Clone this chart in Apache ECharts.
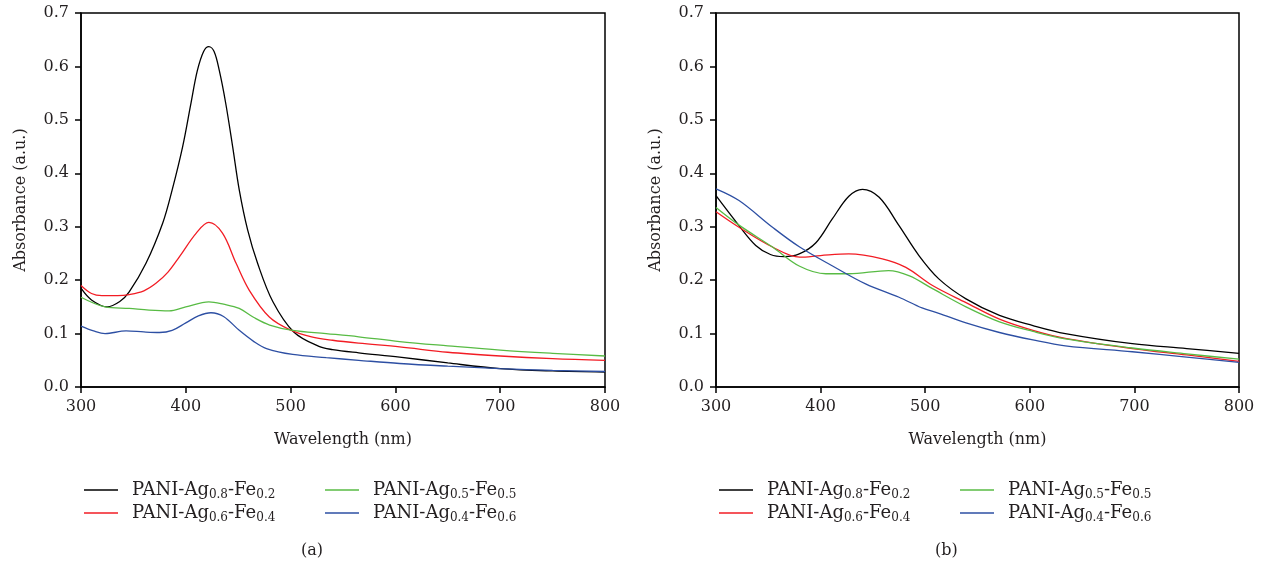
<!DOCTYPE html>
<html><head><meta charset="utf-8">
<script src="https://cdn.jsdelivr.net/npm/echarts@6/dist/echarts.min.js"></script>
<style>html,body{margin:0;padding:0;background:#fff}#c{width:1263px;height:569px}</style>
</head><body><div id="c"></div>
<script>
const names = ['PANI-Ag0.8-Fe0.2','PANI-Ag0.6-Fe0.4','PANI-Ag0.5-Fe0.5','PANI-Ag0.4-Fe0.6'];
const richLabels = ['PANI-Ag{s|0.8}-Fe{s|0.2}','PANI-Ag{s|0.6}-Fe{s|0.4}','PANI-Ag{s|0.5}-Fe{s|0.5}','PANI-Ag{s|0.4}-Fe{s|0.6}'];
const colors = ['#000000','#f21c24','#58bb44','#2d4fa3'];
const yTicks = [0,0.1,0.2,0.3,0.4,0.5,0.6,0.7];
const xTicks = [300,400,500,600,700,800];

// (a)
const aBlackX = [300,310,325,337,346,362,378,387,397,405,411,417,422,427,432,438,444.7,451,459,468.5,483,503,527,540,565,604,650,700,750,800];
const aBlackY = [0.185,0.163,0.150,0.160,0.178,0.2315,0.307,0.369,0.450,0.532,0.592,0.628,0.637,0.628,0.592,0.532,0.450,0.369,0.294,0.2315,0.160,0.103,0.076,0.070,0.064,0.056,0.045,0.0345,0.030,0.028];
const aRedX = [300,310,320,335,346,360,371.5,383,394,410,422,435,448,460.6,479.7,499,520,540,565,604,650,700,750,800];
const aRedY = [0.190,0.175,0.171,0.171,0.173,0.180,0.194,0.215,0.244,0.288,0.308,0.288,0.2315,0.181,0.131,0.1075,0.094,0.0875,0.082,0.075,0.065,0.058,0.053,0.050];
const aGreenX = [300,323,346,365,384,400,422,436,451,465,480,502,534,565,604,650,700,750,800];
const aGreenY = [0.168,0.150,0.147,0.144,0.1426,0.150,0.1595,0.155,0.147,0.130,0.116,0.106,0.100,0.094,0.085,0.077,0.069,0.063,0.058];
const aBlueX = [300,312,323,343,360,375,387,400,412,424,436,451,465,477,502,534,565,604,650,700,750,800];
const aBlueY = [0.114,0.105,0.100,0.105,0.103,0.102,0.106,0.120,0.133,0.139,0.132,0.106,0.085,0.072,0.061,0.055,0.050,0.044,0.039,0.0345,0.031,0.029];

// (b)
const bBlackX = [300,322,338,352,365,379.6,395.5,411,427,440,456,475,494,513,539,571,603,634,698,750,800];
const bBlackY = [0.358,0.302,0.265,0.248,0.244,0.249,0.270,0.314,0.357,0.370,0.355,0.302,0.246,0.2024,0.165,0.134,0.115,0.100,0.081,0.072,0.063];
const bRedX = [300,322,354,380,400,427,459,481.5,507,539,571,603,634,698,750,800];
const bRedY = [0.328,0.299,0.262,0.243,0.246,0.249,0.240,0.224,0.190,0.158,0.127,0.106,0.091,0.072,0.060,0.048];
const bGreenX = [300,322,354,380,405,427,465,485,507,539,571,603,634,698,750,800];
const bGreenY = [0.336,0.303,0.262,0.226,0.212,0.212,0.218,0.208,0.184,0.150,0.122,0.104,0.090,0.073,0.062,0.052];
const bBlueX = [300,322,354,380,411,443,475,497,513,539,571,603,634,698,750,800];
const bBlueY = [0.371,0.349,0.299,0.262,0.227,0.193,0.168,0.148,0.138,0.120,0.102,0.088,0.077,0.066,0.056,0.046];

const panelA = [[aBlackX,aBlackY],[aRedX,aRedY],[aGreenX,aGreenY],[aBlueX,aBlueY]];
const panelB = [[bBlackX,bBlackY],[bRedX,bRedY],[bGreenX,bGreenY],[bBlueX,bBlueY]];

const FONT = 'DejaVu Serif';
const TXT = '#231f20';
function zip(xs, ys){ return xs.map((x,i)=>[x,ys[i]]); }
function xAxis(gi){
  return {type:'value', gridIndex:gi, min:300, max:800, interval:100,
    name:'Wavelength (nm)', nameLocation:'middle', nameGap:45,
    nameTextStyle:{fontFamily:FONT, fontSize:16, color:TXT},
    axisLine:{lineStyle:{color:'#000', width:1.5}},
    axisTick:{inside:false, length:6, lineStyle:{color:'#000', width:1.5}},
    axisLabel:{fontFamily:FONT, fontSize:16, color:TXT, margin:12},
    splitLine:{show:false}};
}
function yAxis(gi){
  return {type:'value', gridIndex:gi, min:0, max:0.7, interval:0.1,
    name:'Absorbance (a.u.)', nameLocation:'middle', nameGap:52,
    nameTextStyle:{fontFamily:FONT, fontSize:16, color:TXT},
    axisLine:{show:true, lineStyle:{color:'#000', width:1.5}},
    axisTick:{show:true, inside:false, length:6, lineStyle:{color:'#000', width:1.5}},
    axisLabel:{fontFamily:FONT, fontSize:16, color:TXT, margin:12, formatter:v=>v.toFixed(1)},
    splitLine:{show:false}};
}
const series = [];
[panelA, panelB].forEach((panel, gi)=>{
  panel.forEach((d, si)=>{
    series.push({type:'line', name:names[si], xAxisIndex:gi, yAxisIndex:gi,
      data:zip(d[0], d[1]), smooth:0.35, showSymbol:false, symbol:'none',
      color:colors[si], lineStyle:{color:colors[si], width:1.3}});
  });
});
const rich = {s:{fontFamily:FONT, fontSize:12, color:TXT, padding:[10,0,0,0]}};
const legends = [];
[79,714].forEach((lx, p)=>{
  names.forEach((n, i)=>{
    const col = i<2 ? 0 : 1, row = i%2;
    legends.push({data:[n], left: lx + col*241, top: 476 + row*23,
      icon:'rect', itemWidth:34, itemHeight:1.5, itemGap:0,
      formatter: name => richLabels[names.indexOf(name)],
      textStyle:{fontFamily:FONT, fontSize:18, color:TXT, padding:[0,0,0,9], rich:rich},
      selectedMode:false});
  });
});
const chart = echarts.init(document.getElementById('c'), null, {renderer:'canvas'});
chart.setOption({
  animation:false,
  backgroundColor:'#fff',
  grid:[{left:81, right:658, top:13, bottom:182, show:true, borderColor:'#000', borderWidth:1.5},
        {left:716, right:24, top:13, bottom:182, show:true, borderColor:'#000', borderWidth:1.5}],
  xAxis:[xAxis(0), xAxis(1)],
  yAxis:[yAxis(0), yAxis(1)],
  legend: legends,
  series: series,
  graphic:[
    {type:'text', left:301, top:543, style:{text:'(a)', font:'16px "DejaVu Serif"', fill:TXT}},
    {type:'text', left:935, top:543, style:{text:'(b)', font:'16px "DejaVu Serif"', fill:TXT}}
  ]
});
</script></body></html>
